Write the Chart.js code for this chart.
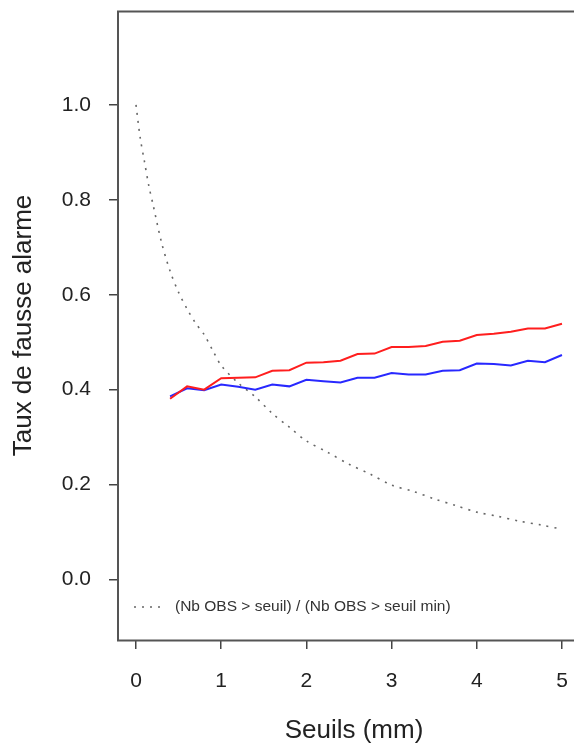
<!DOCTYPE html>
<html><head><meta charset="utf-8">
<script src="https://cdn.jsdelivr.net/npm/chart.js@4/dist/chart.umd.min.js"></script>
<style>
html,body{margin:0;padding:0;overflow:hidden;background:#fff;width:574px;height:745px}
#wrap{position:relative;width:574px;height:745px;overflow:hidden}
canvas{position:absolute;left:0;top:0}
</style></head>
<body><div id="wrap"><canvas id="c" width="600" height="745"></canvas></div>
<script>
// Thresholds (mm) for the two false-alarm curves
const seuils = [0.4,0.6,0.8,1.0,1.2,1.4,1.6,1.8,2.0,2.2,2.4,2.6,2.8,3.0,3.2,3.4,3.6,3.8,4.0,4.2,4.4,4.6,4.8,5.0];
const tauxRouge = [0.381,0.407,0.400,0.424,0.425,0.426,0.440,0.441,0.457,0.458,0.461,0.475,0.476,0.490,0.490,0.492,0.501,0.503,0.515,0.518,0.522,0.529,0.529,0.539];
const tauxBleu  = [0.386,0.403,0.399,0.411,0.406,0.400,0.411,0.407,0.421,0.418,0.415,0.425,0.425,0.435,0.432,0.432,0.440,0.441,0.455,0.454,0.451,0.461,0.458,0.473];
// Ratio (Nb OBS > seuil) / (Nb OBS > seuil min)
const seuilsRatio = [0,0.05,0.1,0.15,0.2,0.3,0.4,0.5,0.6,0.7,0.8,0.9,1.0,1.2,1.4,1.6,1.8,2.0,2.25,2.5,2.75,3.0,3.25,3.5,3.75,4.0,4.25,4.5,4.75,5.0];
const ratioObs    = [1.00,0.93,0.88,0.83,0.79,0.71,0.65,0.605,0.57,0.54,0.516,0.483,0.451,0.414,0.385,0.35,0.321,0.292,0.268,0.243,0.222,0.199,0.186,0.17,0.156,0.142,0.133,0.123,0.115,0.106];
const xTicks = [0,1,2,3,4,5];
const yTicks = [0.0,0.2,0.4,0.6,0.8,1.0];
const legendLabel = "(Nb OBS > seuil) / (Nb OBS > seuil min)";
const xTitle = "Seuils (mm)";
const yTitle = "Taux de fausse alarme";

const FONT = "'Liberation Sans', Arial, Helvetica, sans-serif";

const boxPlugin = {
  id: 'box',
  afterDraw(chart) {
    const {ctx, chartArea: a} = chart;
    ctx.save();
    ctx.strokeStyle = '#555';
    ctx.lineWidth = 2;
    ctx.strokeRect(a.left, a.top + 0.5, a.right - a.left, a.bottom - a.top);
    // legend (inside plot, bottom-left)
    const ds = chart.data.datasets[2];
    const y = a.bottom - 33;
    ctx.strokeStyle = ds.borderColor;
    ctx.lineWidth = ds.borderWidth;
    ctx.setLineDash(ds.borderDash);
    ctx.beginPath();
    ctx.moveTo(a.left + 16, y);
    ctx.lineTo(a.left + 42, y);
    ctx.stroke();
    ctx.setLineDash([]);
    ctx.fillStyle = '#333';
    ctx.font = "15.5px " + FONT;
    ctx.textBaseline = 'middle';
    ctx.textAlign = 'left';
    ctx.fillText(ds.label, a.left + 57, y);
    ctx.restore();
  }
};

new Chart(document.getElementById('c'), {
  type: 'line',
  data: {
    datasets: [
      { label: 'rouge', data: seuils.map((x,i)=>({x, y: tauxRouge[i]})), borderColor: 'rgb(255,30,30)', borderWidth: 2, pointRadius: 0, tension: 0, fill: false },
      { label: 'bleu', data: seuils.map((x,i)=>({x, y: tauxBleu[i]})), borderColor: 'rgb(40,40,255)', borderWidth: 2, pointRadius: 0, tension: 0, fill: false },
      { label: legendLabel, data: seuilsRatio.map((x,i)=>({x, y: ratioObs[i]})), borderColor: '#666', borderWidth: 1.6, borderDash: [2,6], pointRadius: 0, tension: 0.3, fill: false }
    ]
  },
  options: {
    responsive: false,
    animation: false,
    devicePixelRatio: 1,
    layout: { padding: { top: 11, right: 10, left: 0, bottom: 0 } },
    plugins: { legend: { display: false }, tooltip: { enabled: false } },
    scales: {
      x: {
        type: 'linear',
        min: -0.2113, max: 5.329,
        afterBuildTicks: s => { s.ticks = xTicks.map(v => ({value: v})); },
        afterFit: s => { s.height = 105; s.paddingLeft = 0; s.paddingRight = 0; },
        grid: { drawOnChartArea: false, drawTicks: true, tickLength: 9, color: '#444', lineWidth: 1.5 },
        border: { display: false },
        ticks: { font: { family: FONT, size: 21 }, color: '#222', padding: 20, maxRotation: 0, autoSkip: false, callback: v => String(v) },
        title: { display: true, text: xTitle, font: { family: FONT, size: 26, lineHeight: 1 }, color: '#222', padding: { top: 0, bottom: 1 } }
      },
      y: {
        type: 'linear',
        min: -0.1275, max: 1.198,
        afterBuildTicks: s => { s.ticks = yTicks.map(v => ({value: v})); },
        afterFit: s => { s.width = 118; s.paddingTop = 0; s.paddingBottom = 0; },
        grid: { drawOnChartArea: false, drawTicks: true, tickLength: 9, color: '#444', lineWidth: 1.5 },
        border: { display: false },
        ticks: { font: { family: FONT, size: 21 }, color: '#222', padding: 18, autoSkip: false, callback: v => v.toFixed(1) },
        title: { display: true, text: yTitle, font: { family: FONT, size: 26, lineHeight: 1 }, color: '#222', padding: { top: 11, bottom: 0 } }
      }
    }
  },
  plugins: [boxPlugin]
});
</script>
</body></html>
